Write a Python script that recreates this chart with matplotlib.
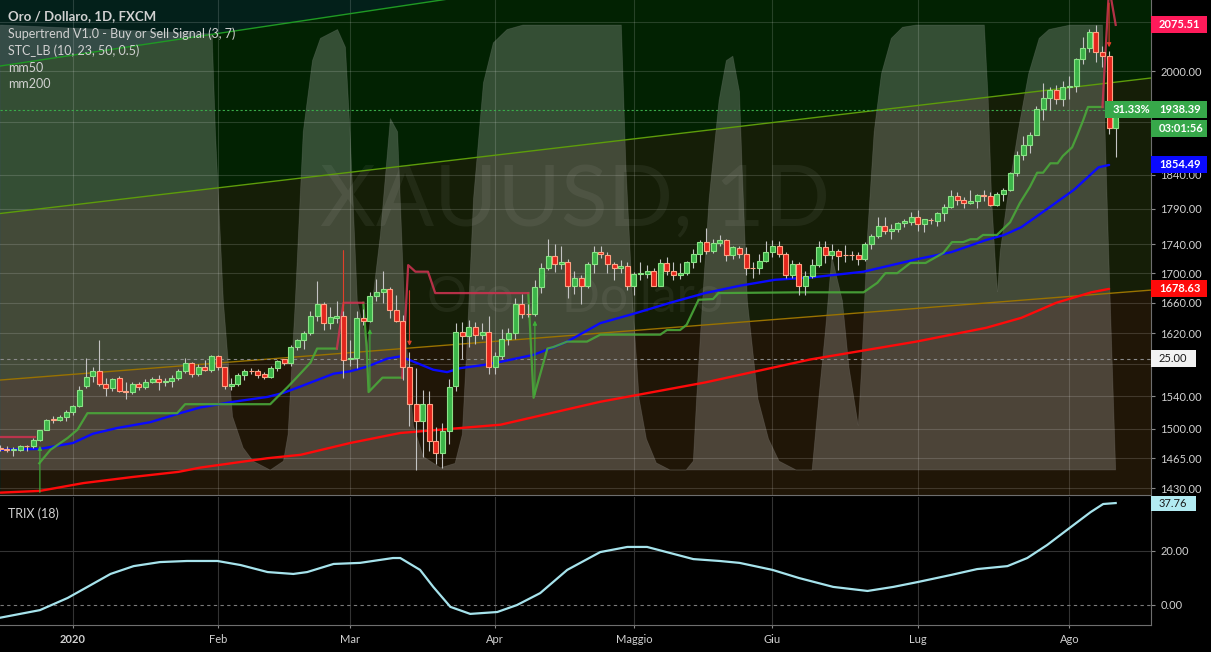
import numpy as np
import matplotlib.pyplot as plt
import matplotlib.transforms as mtransforms
from matplotlib.patches import Rectangle, Polygon
from matplotlib.ticker import NullLocator

plt.rcParams['font.family'] = ['Lato', 'DejaVu Sans']

# XAUUSD daily bars (FXCM), 16 Dec 2019 .. 12 Aug 2020 -- one line per month
opens = [
    1476, 1476, 1475, 1475, 1479, 1479, 1487, 1499, 1511, 1511, 1514,
    1520, 1528, 1552, 1565, 1572, 1555, 1550, 1562, 1546, 1545, 1555, 1551, 1557, 1561, 1557, 1559, 1563, 1571, 1581, 1568, 1577, 1573,
    1590, 1576, 1552, 1555, 1566, 1571, 1571, 1567, 1564, 1575, 1586, 1581, 1602, 1611, 1620, 1643, 1658, 1633, 1640, 1643,
    1586, 1588, 1640, 1636, 1669, 1675, 1679, 1650, 1636, 1577, 1530, 1509, 1530, 1485, 1471, 1497, 1552, 1622, 1616, 1628, 1618, 1622,
    1577, 1591, 1612, 1620, 1658, 1645, 1645, 1681, 1707, 1724, 1712, 1716, 1682, 1694, 1682, 1712, 1729, 1725, 1712, 1707, 1710,
    1683, 1699, 1699, 1703, 1683, 1714, 1703, 1697, 1700, 1715, 1726, 1743, 1731, 1742, 1746, 1725, 1735, 1726, 1707, 1707, 1717,
    1729, 1737, 1726, 1697, 1712, 1683, 1696, 1711, 1736, 1725, 1731, 1725, 1725, 1725, 1720, 1740, 1752, 1765, 1758, 1761, 1770, 1771,
    1779, 1768, 1774, 1773, 1784, 1793, 1809, 1803, 1798, 1802, 1810, 1809, 1796, 1811, 1818, 1842, 1870, 1885, 1900, 1940, 1957, 1970, 1955,
    1974, 1976, 2019, 2037, 2063, 2031, 2025, 1911,
]
highs = [
    1481, 1479, 1478, 1481, 1481, 1489, 1499, 1512, 1515, 1517, 1523,
    1529, 1553, 1588, 1576, 1611, 1562, 1563, 1565, 1557, 1558, 1558, 1561, 1564, 1566, 1562, 1566, 1574, 1588, 1583, 1580, 1585, 1592,
    1592, 1577, 1562, 1569, 1574, 1575, 1574, 1570, 1578, 1585, 1587, 1604, 1612, 1623, 1649, 1689, 1661, 1655, 1662, 1649,
    1611, 1649, 1652, 1674, 1692, 1703, 1681, 1671, 1644, 1596, 1575, 1547, 1546, 1502, 1507, 1561, 1633, 1635, 1637, 1635, 1633, 1643,
    1595, 1625, 1627, 1667, 1672, 1659, 1690, 1714, 1747, 1741, 1738, 1719, 1703, 1698, 1716, 1738, 1737, 1729, 1716, 1718, 1716,
    1702, 1716, 1711, 1707, 1720, 1722, 1716, 1714, 1717, 1734, 1746, 1763, 1748, 1753, 1748, 1737, 1738, 1736, 1716, 1726, 1744,
    1746, 1744, 1729, 1718, 1716, 1703, 1720, 1745, 1744, 1740, 1734, 1739, 1731, 1729, 1743, 1755, 1779, 1779, 1768, 1772, 1776, 1785,
    1789, 1776, 1777, 1786, 1797, 1818, 1814, 1808, 1817, 1812, 1818, 1814, 1814, 1820, 1844, 1875, 1898, 1904, 1945, 1981, 1975, 1978, 1984,
    1992, 2021, 2055, 2069, 2075, 2040, 2032, 1944,
]
lows = [
    1474, 1472, 1468, 1473, 1474, 1477, 1486, 1498, 1507, 1509, 1510,
    1517, 1526, 1550, 1558, 1553, 1540, 1546, 1545, 1536, 1543, 1548, 1549, 1556, 1547, 1553, 1551, 1560, 1569, 1564, 1565, 1571, 1570,
    1573, 1549, 1547, 1553, 1560, 1567, 1563, 1561, 1562, 1572, 1579, 1578, 1598, 1600, 1618, 1636, 1624, 1625, 1633, 1563,
    1578, 1575, 1630, 1634, 1662, 1660, 1640, 1634, 1560, 1503, 1451, 1467, 1473, 1458, 1453, 1482, 1546, 1586, 1602, 1606, 1612, 1567,
    1567, 1587, 1604, 1612, 1640, 1641, 1643, 1673, 1705, 1702, 1706, 1667, 1672, 1658, 1680, 1700, 1721, 1700, 1691, 1700, 1677,
    1670, 1690, 1693, 1683, 1682, 1697, 1691, 1692, 1698, 1707, 1716, 1726, 1728, 1737, 1717, 1719, 1721, 1697, 1694, 1699, 1715,
    1722, 1722, 1693, 1693, 1670, 1671, 1694, 1709, 1714, 1720, 1704, 1715, 1718, 1711, 1717, 1734, 1749, 1755, 1747, 1757, 1764, 1767,
    1759, 1757, 1769, 1766, 1773, 1791, 1796, 1791, 1797, 1791, 1801, 1795, 1794, 1802, 1816, 1838, 1862, 1872, 1899, 1922, 1939, 1948, 1945,
    1956, 1966, 2012, 2031, 2015, 2007, 1901, 1866,
]
closes = [
    1476, 1475, 1476, 1479, 1479, 1487, 1499, 1511, 1511, 1514, 1520,
    1528, 1548, 1564, 1572, 1555, 1550, 1561, 1546, 1545, 1555, 1551, 1557, 1561, 1557, 1559, 1563, 1571, 1581, 1568, 1577, 1573, 1590,
    1576, 1552, 1555, 1566, 1571, 1571, 1566, 1564, 1575, 1584, 1581, 1602, 1611, 1620, 1643, 1658, 1633, 1641, 1643, 1585,
    1588, 1640, 1636, 1669, 1675, 1679, 1650, 1636, 1577, 1530, 1509, 1530, 1485, 1471, 1497, 1551, 1622, 1616, 1628, 1618, 1622, 1577,
    1591, 1612, 1620, 1658, 1645, 1645, 1681, 1707, 1724, 1712, 1716, 1682, 1694, 1682, 1712, 1729, 1726, 1712, 1707, 1710, 1683,
    1699, 1700, 1703, 1683, 1714, 1703, 1697, 1700, 1715, 1726, 1743, 1731, 1742, 1746, 1725, 1736, 1726, 1707, 1707, 1717, 1729,
    1737, 1726, 1697, 1712, 1683, 1696, 1711, 1736, 1725, 1731, 1724, 1725, 1725, 1720, 1740, 1752, 1765, 1758, 1762, 1770, 1773, 1779,
    1768, 1775, 1774, 1784, 1793, 1809, 1803, 1798, 1801, 1810, 1809, 1796, 1811, 1818, 1843, 1870, 1885, 1900, 1940, 1957, 1970, 1955, 1975,
    1976, 2019, 2037, 2063, 2031, 2025, 1911, 1938,
]

# moving averages (bar index, price)
mm50_x = [0, 6, 11, 14, 17.7, 22.7, 26.8, 30.3, 35.3, 40.5, 42.9, 45.5, 48, 50.5, 53, 55.6, 58.6, 60.6, 62.1,
          65.6, 67.7, 69.7, 73.2, 75.8, 80.8, 83.3, 85.9, 90.9, 96.2, 101.5, 106.8, 112.1, 117.4, 122.7, 130.8,
          138.8, 144.1, 149.4, 152.1, 154.7, 158.9, 162.7, 166.4, 168]
mm50_y = [1475, 1476, 1483, 1494, 1501, 1508, 1518, 1526, 1533, 1539, 1544, 1552, 1560, 1568, 1571, 1577, 1587, 1590, 1585,
          1573, 1570, 1575, 1579, 1583, 1592, 1600, 1609, 1633, 1646, 1660, 1673, 1683, 1691, 1694, 1702,
          1719, 1729, 1746, 1753, 1764, 1792, 1818, 1851, 1854.49]
mm200_x = [0, 6, 12.6, 20, 27, 30.3, 40.5, 45.5, 53, 60.6, 75.8, 90.9, 106.8, 122.7, 138.8, 149.4, 154.7, 160, 165.3, 168]
mm200_y = [1425, 1427, 1436, 1443, 1449, 1454, 1465, 1469, 1483, 1495, 1505, 1533, 1557, 1586, 1609, 1627, 1640, 1660, 1674, 1678.63]

# Supertrend (3, 7) segments
st_red_1 = ([0, 5.2], [1490, 1490])
st_green_1 = ([5.9, 7.6, 10.2, 11.7, 13.2, 26.8, 28, 40.9, 42, 43.5, 45, 47, 48, 51],
              [1459, 1475, 1489, 1499, 1519, 1519, 1530, 1530, 1539, 1551, 1564, 1582, 1600, 1600])
st_red_2 = ([51, 52, 55], [1600, 1660, 1660])
st_green_2 = ([55, 55.5, 55.8, 57.9, 60.9], [1660, 1602, 1545, 1563, 1563])
st_red_3 = ([60.9, 61.8, 62.9, 64.8, 65.9, 80], [1563, 1711, 1702, 1702, 1673, 1673])
st_green_3 = ([80, 80.8, 82.9, 83.8, 85.9, 88.9, 90.9, 100, 101, 103, 104, 105.8, 108, 108.8, 121, 130.8, 132.9,
               134.1, 135.9, 137.9, 140.2, 142.9, 144.2, 145.9, 147, 148, 148.9, 151, 153, 154.5, 156, 157.1, 158,
               159.1, 160.2, 161, 162.4, 163.2, 164.1, 164.8, 167],
              [1673, 1538, 1600, 1602, 1609, 1609, 1618, 1618, 1624, 1624, 1631, 1664, 1665, 1673, 1674, 1674, 1687,
               1700, 1700, 1714, 1714, 1728, 1743, 1743, 1747, 1747, 1753, 1753, 1771, 1799, 1822, 1843, 1843,
               1857, 1857, 1868, 1881, 1900, 1923, 1943, 1943])
st_red_4 = ([167, 168, 169], [1943, 2140, 2075.51])
sell_arrows = [(52, 1735, 1600), (62, 1680, 1600), (168, 2117, 2034)]
buy_arrows = [(6, 1422, 1483), (56, 1545, 1629), (81, 1538, 1640)]

# STC_LB (10, 23, 50, 0.5)
stc_x = [0, 32.1, 32.6, 33.8, 35.2, 36.8, 38.3, 40.9, 42.9, 43.6, 44.7, 45.9, 47.3, 48.5, 51.1, 52.3, 53, 54.1,
         55.6, 57.6, 59.1, 60.2, 60.6, 61.4, 62.6, 64.1, 66.7, 68.9, 70, 70.8, 71.7, 73.2, 74.7, 76.8, 79.2,
         94.1, 94.8, 95.8, 96.8, 97.9, 99.4, 101.5, 103.9, 105, 105.5, 106.4, 107.4, 108.9, 110, 111, 112, 112.4,
         113.2, 114.8, 116.4, 118, 120.6, 123, 124, 125, 126, 127.6, 128.6, 130, 130.5, 131.4, 132.4, 133.5, 135,
         136.7, 138.8, 149.1, 149.7, 150.2, 150.8, 151.1, 151.5, 152.6, 154.2, 155.8, 157.4, 158.9, 162.1, 167,
         167.4, 168, 168.5, 169]
stc_y = [100, 98, 76, 38, 12, 5, 2, 0, 2, 8, 38, 76, 92, 97, 99, 95, 76, 38,
         28, 53, 79, 76, 61, 31, 10, 3, 0.5, 1.5, 8, 31, 61, 87, 96, 99, 100,
         100, 68, 38, 16, 7, 1.6, 0, 0, 2, 16, 38, 61, 83, 92, 93, 85, 68,
         38, 16, 7, 2, 0, 0, 16, 31, 48, 38, 23, 10, 23, 53, 76, 89, 97,
         99.5, 100, 100, 83, 61, 46, 40, 49, 61, 76, 89, 97, 99, 100, 100,
         76, 46, 23, 0]

# TRIX (18)
trix_x = [0, 6, 10.2, 13.2, 16.7, 20.2, 24.2, 28.3, 32.9, 36.4, 40.5, 44.4, 46.5, 50.5, 54.5, 59.5, 60.6, 63.6,
          65.6, 68.2, 71.2, 75.3, 78.3, 81.8, 85.9, 90.9, 95, 98, 105, 109, 112, 117, 121, 126.2, 131.4, 135.3,
          139, 144, 148, 152.6, 155.6, 158.6, 162, 165.2, 167.1, 169]
trix_y = [-4.7, -1.9, 2.6, 6.7, 11.5, 14.4, 15.9, 16.3, 16.3, 14.8, 12.2, 11.5, 12.2, 15.2, 15.6, 17.4, 17.4, 13,
          6.7, -0.7, -3.3, -2.6, 0, 4.4, 13, 19.6, 21.5, 21.5, 17, 16.3, 15.6, 13, 10, 6.7, 5.2, 6.7,
          8.5, 11.1, 13.3, 14.4, 17.4, 22.2, 28.5, 34.4, 37.4, 37.76]

# trend channel, price at left / right edge of the pane
ch_top = [2008, 2306]
ch_mid = [1783.5, 1988.8]
ch_low = [1560, 1677]

month_ticks = [11, 33, 53, 75, 96, 117, 139, 162]
month_labels = ['2020', 'Feb', 'Mar', 'Apr', 'Maggio', 'Giu', 'Lug', 'Ago']
price_ticks = [2080, 2000, 1920, 1840, 1790, 1740, 1700, 1660, 1620, 1580, 1540, 1500, 1465, 1430]
hidden_ticks = [2080, 1920, 1580]   # covered by the price tags on the axis
last_price = 1938.39

W, H = 1211, 652
XL = (-0.045, 174.35)
YL = (1422.3, 2117.5)
STC_BASE, STC_TOP = 25 / 495, 470 / 495
TXT = '#d1d1d1'


def stc_frac(v):
    return STC_BASE + (STC_TOP - STC_BASE) * v / 100.0


fig = plt.figure(figsize=(W / 100, H / 100), dpi=100, facecolor='black')
ax = fig.add_axes([0, 1 - 495 / H, 1151 / W, 495 / H])
tx = fig.add_axes([0, 1 - 625 / H, 1151 / W, 128 / H])

ax.set_yscale('log')
ax.set_xlim(*XL)
ax.set_ylim(*YL)
ax.set_facecolor('#03201a')

# channel background bands
ax.fill_between(XL, ch_mid, ch_top, color='#022202', lw=0, zorder=0)
ax.fill_between(XL, ch_low, ch_mid, color='#151e07', lw=0, zorder=0)
ax.fill_between(XL, [1000, 1000], ch_low, color='#201607', lw=0, zorder=0)
ax.plot(XL, ch_top, color='#1f9a22', lw=1, zorder=2)
ax.plot(XL, ch_mid, color='#5e9c0a', lw=1, zorder=2)
ax.plot(XL, ch_low, color='#9a7200', lw=1, zorder=2)

# STC shading (own 0..100 scale inside the price pane)
trans = mtransforms.blended_transform_factory(ax.transData, ax.transAxes)
verts = [(stc_x[0], stc_frac(0))] + [(x, stc_frac(v)) for x, v in zip(stc_x, stc_y)] + [(stc_x[-1], stc_frac(0))]
ax.add_patch(Polygon(verts, closed=True, transform=trans, fc='white', alpha=0.2, ec='#9a9a9a', lw=0.6, zorder=1))
ax.plot(XL, [stc_frac(25)] * 2, transform=trans, color='#8a8a8a', lw=0.8, ls=(0, (3, 3)), zorder=2)

# watermark
ax.text(575 / 1151, 1 - 202 / 495, 'XAUUSD, 1D', transform=ax.transAxes, ha='center', va='center',
        fontsize=62, color='white', alpha=0.06, zorder=1)
ax.text(575 / 1151, 1 - 298 / 495, 'Oro / Dollaro', transform=ax.transAxes, ha='center', va='center',
        fontsize=36, color='white', alpha=0.06, zorder=1)

# grid
for p in price_ticks:
    ax.axhline(p, color='white', alpha=0.15, lw=0.8, zorder=1.5)
for m in month_ticks:
    ax.axvline(m, color='white', alpha=0.15, lw=0.8, zorder=1.5)
    tx.axvline(m, color='#333333', lw=0.8, zorder=0)

ax.axhline(last_price, color='#3aaa4a', lw=0.8, ls=(0, (2, 2)), zorder=2.5)

# moving averages
ax.plot(mm50_x, mm50_y, color='#0a0aff', lw=1.7, zorder=4, solid_capstyle='round')
ax.plot(mm200_x, mm200_y, color='#ff0a0a', lw=1.7, zorder=4, solid_capstyle='round')

# supertrend
for seg in [st_green_1, st_green_2, st_green_3]:
    ax.plot(seg[0], seg[1], color='#4aa83a', lw=1.6, alpha=0.9, zorder=4.5)
for seg in [st_red_1, st_red_2, st_red_3, st_red_4]:
    ax.plot(seg[0], seg[1], color='#c8334f', lw=1.6, alpha=0.9, zorder=4.5)
for i, a, b in sell_arrows:
    ax.annotate('', xy=(i, b), xytext=(i, a), annotation_clip=False,
                arrowprops=dict(arrowstyle='-|>', color='#e0402a', lw=0.8, mutation_scale=6), zorder=5)
for i, a, b in buy_arrows:
    ax.annotate('', xy=(i, b), xytext=(i, a),
                arrowprops=dict(arrowstyle='-|>', color='#3fb03a', lw=0.8, mutation_scale=6), zorder=5)

# candles
x = np.arange(len(closes))
o, h, l, c = map(np.array, (opens, highs, lows, closes))
up = c > o
bottoms = np.minimum(o, c)
heights = np.maximum(np.abs(c - o), 0.6)
ax.vlines(x, l, h, color='#c4c4c4', lw=0.8, zorder=5.5)
ax.bar(x, heights, bottom=bottoms, width=0.78,
       color=np.where(up, '#3cb449', '#e3261d'), edgecolor=np.where(up, '#8be386', '#ffa283'),
       linewidth=0.8, zorder=6)

# price axis on the right
ax.yaxis.tick_right()
ax.yaxis.set_minor_locator(NullLocator())
ax.set_yticks(price_ticks)
ax.set_yticklabels(['' if p in hidden_ticks else '%.2f' % p for p in price_ticks])
ax.tick_params(axis='y', colors='#8a8a8a', labelcolor=TXT, labelsize=8, length=3, width=0.8, pad=3.6)
ax.tick_params(axis='x', length=0, labelbottom=False)
for s in ['top', 'left']:
    ax.spines[s].set_visible(False)
for s in ['right', 'bottom']:
    ax.spines[s].set_color('#6e6e6e')

# TRIX pane
tx.set_facecolor('black')
tx.set_xlim(*XL)
tx.set_ylim(-7.41, 40.0)
tx.axhline(20, color='#333333', lw=0.8, zorder=0)
tx.axhline(0, color='#7a7a7a', lw=0.8, ls=(0, (3, 3)), zorder=0)
tx.plot(trix_x, trix_y, color='#a6e3ec', lw=1.6, zorder=3)
tx.yaxis.tick_right()
tx.set_yticks([0, 20])
tx.set_yticklabels(['0.00', '20.00'])
tx.set_xticks(month_ticks)
tx.set_xticklabels(month_labels)
tx.get_xticklabels()[0].set_fontweight('bold')
tx.tick_params(axis='y', colors='#8a8a8a', labelcolor=TXT, labelsize=8, length=3, width=0.8, pad=3.6)
tx.tick_params(axis='x', colors='#8a8a8a', labelcolor=TXT, labelsize=8, length=2.2, width=0.8, pad=4.5)
for s in ['top', 'left']:
    tx.spines[s].set_visible(False)
for s in ['right', 'bottom']:
    tx.spines[s].set_color('#6e6e6e')
tx.text(8 / 1151, 1 - 17 / 128, 'TRIX (18)', transform=tx.transAxes, color=TXT, fontsize=9, va='center')

# legend
fig.text(8 / W, 1 - 16 / H, 'Oro / Dollaro, 1D, FXCM', color=TXT, fontsize=9.5, fontweight='bold', va='center')
for k, s in enumerate(['Supertrend V1.0 - Buy or Sell Signal (3, 7)', 'STC_LB (10, 23, 50, 0.5)', 'mm50', 'mm200']):
    fig.text(8 / W, 1 - (33.5 + 17 * k) / H, s, color=TXT, fontsize=9, va='center')

# price tags
ident = mtransforms.IdentityTransform()
x_axis = ax.transAxes.transform((1, 0))[0]


def tag(yd, text, fc, tc='white', x0=None, w=56, hgt=17, bold=True):
    x0 = x_axis if x0 is None else x0
    fig.add_artist(Rectangle((x0, yd - hgt / 2), w, hgt, transform=ident, fc=fc, ec='none', zorder=20))
    fig.text(x0 + 8, yd, text, transform=ident, color=tc, fontsize=8,
             fontweight='bold' if bold else 'normal', va='center', ha='left', zorder=21)


def ypix(axis, v):
    return axis.transData.transform((0, v))[1]


tag(ypix(ax, st_red_4[1][-1]), '%.2f' % st_red_4[1][-1], '#ff1a5a')
tag(ypix(ax, last_price), '%.2f' % last_price, '#37a84a')
tag(ypix(ax, last_price) - 19, '03:01:56', '#37a84a')
tag(ypix(ax, last_price), '31.33%', '#37a84a', x0=x_axis - 46, w=46, bold=True)
tag(ypix(ax, mm50_y[-1]), '%.2f' % mm50_y[-1], '#0a0aff')
tag(ypix(ax, mm200_y[-1]), '%.2f' % mm200_y[-1], '#ff0a0a')
tag(ax.transAxes.transform((0, stc_frac(25)))[1], '25.00', '#f2f2f2', tc='#1a1a1a', w=45, bold=False)
tag(ypix(tx, trix_y[-1]), '%.2f' % trix_y[-1], '#b2ebf2', tc='#1a1a1a', w=45, hgt=15, bold=False)

fig.savefig('out.png', dpi=100, facecolor='black')
